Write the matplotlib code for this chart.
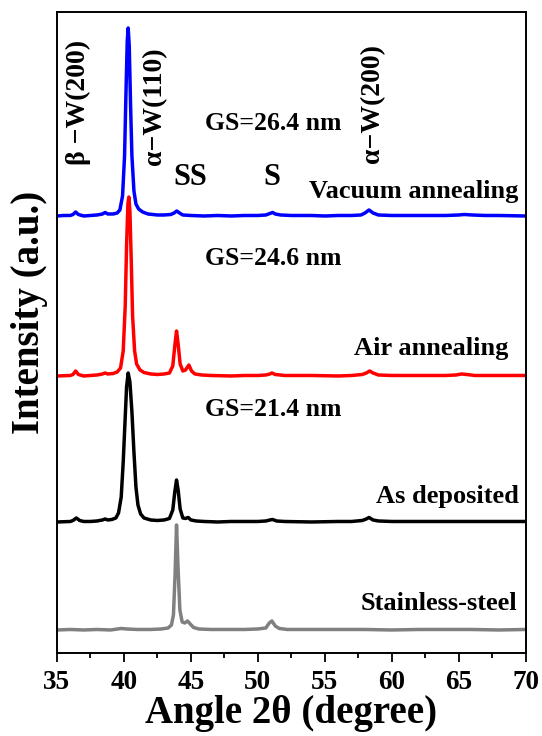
import matplotlib
matplotlib.use("Agg")
import matplotlib.pyplot as plt
from matplotlib.ticker import MultipleLocator

plt.rcParams['font.family'] = ['Liberation Serif', 'DejaVu Serif']
plt.rcParams['font.weight'] = 'bold'

# XRD traces: 2-theta (deg) and intensity above each trace's own baseline (a.u.)
vac_angle = [35.0, 35.5, 36.0, 36.2, 36.4, 36.6, 37.0, 37.5, 38.0, 38.4, 38.6, 38.8, 39.2, 39.5,
             39.7, 39.9, 40.05, 40.15, 40.25, 40.32, 40.4, 40.5, 40.6, 40.75, 40.9, 41.1, 41.4,
             41.8, 42.5, 43.0, 43.5, 43.75, 43.95, 44.15, 44.4, 45.0, 46.0, 47.0, 48.0, 49.0,
             50.0, 50.6, 50.9, 51.1, 51.3, 51.7, 52.5, 54.0, 55.0, 56.0, 57.0, 57.7, 58.0, 58.3,
             58.6, 59.0, 60.0, 62.0, 64.0, 65.0, 65.4, 66.0, 67.0, 68.0, 70.0]
vac_int = [0, 0.5, 0.5, 1.5, 4, 1.5, 0, 0.5, 1, 2, 3.5, 2, 2, 3,
           6, 20, 60, 120, 175, 188, 170, 110, 60, 25, 12, 7, 4,
           2, 1, 1, 1.5, 3, 5, 3, 1, 0.5, 0, 0.5, 0, 0.5,
           0.5, 1, 2.5, 3.5, 2, 1, 0.5, 0.5, 0, 0.5, 0.5, 1, 3, 6,
           3, 1, 0.5, 0.5, 0.5, 1, 1.5, 1, 0.5, 0.5, 0]

air_angle = [35.0, 36.0, 36.2, 36.4, 36.6, 37.0, 37.5, 38.0, 38.4, 38.6, 38.8, 39.2, 39.5, 39.75,
             39.95, 40.1, 40.2, 40.3, 40.37, 40.45, 40.55, 40.65, 40.8, 40.95, 41.2, 41.5, 42.0,
             42.5, 43.0, 43.4, 43.65, 43.8, 43.93, 44.05, 44.2, 44.4, 44.6, 44.85, 45.05, 45.3,
             45.8, 46.5, 48.0, 49.0, 50.0, 50.6, 50.9, 51.05, 51.3, 52.0, 54.0, 56.0, 57.0, 57.8,
             58.1, 58.35, 58.6, 59.0, 60.0, 62.0, 64.0, 64.8, 65.2, 65.6, 66.2, 68.0, 70.0]
air_int = [0, 0.5, 1.5, 5, 1.5, 0, 0.5, 1, 2, 3, 2, 2.5, 4, 8,
           25, 70, 130, 172, 179, 165, 115, 60, 25, 12, 6, 3.5, 2,
           1.5, 2, 3, 10, 30, 45, 32, 12, 5, 6, 11, 5, 2,
           1, 0.5, 0, 0.5, 0.5, 1, 2, 3, 1.5, 0.5, 0.5, 0, 0.5, 1.5,
           3, 5, 3, 1, 0.5, 0.5, 0.5, 1, 2, 1.5, 0.5, 0.5, 0.5]

dep_angle = [35.0, 36.0, 36.2, 36.45, 36.7, 37.0, 37.5, 38.0, 38.4, 38.6, 38.8, 39.1, 39.4, 39.6,
             39.8, 39.95, 40.1, 40.2, 40.32, 40.45, 40.6, 40.75, 40.9, 41.05, 41.25, 41.5, 42.0,
             42.5, 43.0, 43.4, 43.65, 43.8, 43.93, 44.05, 44.2, 44.4, 44.6, 44.8, 45.0, 45.4,
             46.0, 47.0, 48.0, 49.0, 50.0, 50.6, 50.9, 51.1, 51.4, 52.0, 54.0, 56.0, 57.0, 57.8,
             58.1, 58.3, 58.6, 59.0, 60.0, 62.0, 64.0, 66.0, 68.0, 70.0]
dep_int = [0, 0.5, 1.5, 4, 1.5, 0.5, 0.5, 1, 2, 3, 2, 2.5, 4, 9,
           25, 60, 105, 135, 149, 140, 110, 70, 35, 17, 8, 4, 2,
           1.5, 2, 3.5, 12, 30, 42, 32, 13, 4, 3.5, 4.5, 2, 1,
           0.5, 0, 0.5, 0.5, 0.5, 1, 2, 2.5, 1, 0.5, 0, 0.5, 0.5, 1.5,
           3, 4.5, 2, 1, 0.5, 0.5, 0.5, 0.5, 0.5, 0.5]

ss_angle = [35.0, 36.0, 37.0, 38.0, 39.0, 39.8, 40.2, 41.0, 42.0, 42.8, 43.3, 43.55, 43.7, 43.82,
            43.93, 44.05, 44.18, 44.35, 44.55, 44.75, 44.95, 45.2, 45.6, 46.5, 48.0, 49.0, 50.0,
            50.6, 50.85, 51.05, 51.3, 51.6, 52.2, 54.0, 56.0, 58.0, 60.0, 62.0, 64.0, 66.0, 68.0, 70.0]
ss_int = [0, 0.5, 0, 0.5, 0, 1.5, 1, 0.5, 0.5, 1, 2, 5, 15, 55,
          105, 60, 20, 8, 7, 9, 6, 2.5, 1, 0.5, 0.5, 0.5, 1,
          2, 7, 9, 4, 1.5, 0.5, 0.5, 0.5, 0.5, 0, 0.5, 0.5, 0.5, 0, 0.5]

# vertical stacking of the patterns
offsets = [437, 277, 131, 23]
colors = ['#0000ff', '#ff0000', '#000000', '#808080']
samples = ['Vacuum annealing', 'Air annealing', 'As deposited', 'Stainless-steel']
grain_sizes = ['GS=26.4 nm', 'GS=24.6 nm', 'GS=21.4 nm']

traces = [(vac_angle, vac_int), (air_angle, air_int), (dep_angle, dep_int), (ss_angle, ss_int)]

fig = plt.figure(figsize=(5.42, 7.36), dpi=100)
ax = fig.add_axes([0.105, 0.1128, 0.865, 0.8709])

for (ang, inten), off, c in zip(traces, offsets, colors):
    ax.plot(ang, [v + off for v in inten], color=c, lw=2.5, solid_joinstyle='round')

ax.set_xlim(35, 70)
ax.set_ylim(0, 641)
ax.xaxis.set_major_locator(MultipleLocator(5))
ax.xaxis.set_minor_locator(MultipleLocator(2.5))
ax.tick_params(axis='x', which='major', direction='out', length=6.5, width=1.3,
               labelsize=19.5, pad=6, top=False)
ax.tick_params(axis='x', which='minor', direction='out', length=3.5, width=1.3, top=False)
ax.set_yticks([])
for s in ax.spines.values():
    s.set_linewidth(1.4)
for lab in ax.get_xticklabels():
    lab.set_fontweight('bold')

ax.set_xlabel('Angle 2θ (degree)', fontsize=28, fontweight='bold', labelpad=0)
ax.set_ylabel('Intensity (a.u.)', fontsize=28, fontweight='bold', va='center')
ax.yaxis.set_label_coords(-0.058, 0.532)

# peak assignments
peak_kw = dict(rotation=90, ha='center', va='bottom', fontsize=20, fontweight='bold')
ax.text(36.57, 488, 'β −W(200)', **peak_kw)
ax.text(42.31, 488, 'α−W(110)', **peak_kw)
ax.text(58.58, 490, 'α−W(200)', **peak_kw)
ax.text(44.93, 468, 'SS', ha='center', va='baseline', fontsize=22, fontweight='bold')
ax.text(51.04, 468, 'S', ha='center', va='baseline', fontsize=22, fontweight='bold')

# grain size and sample names
for gs, y in zip(grain_sizes, [523, 388, 237]):
    ax.text(46.04, y, gs, ha='left', va='baseline', fontsize=18.5, fontweight='bold')
for name, x, y in zip(samples, [69.48, 68.73, 69.48, 69.4], [455, 298, 150, 43]):
    ax.text(x, y, name, ha='right', va='baseline', fontsize=19, fontweight='bold')

fig.savefig('out.png', dpi=100)
